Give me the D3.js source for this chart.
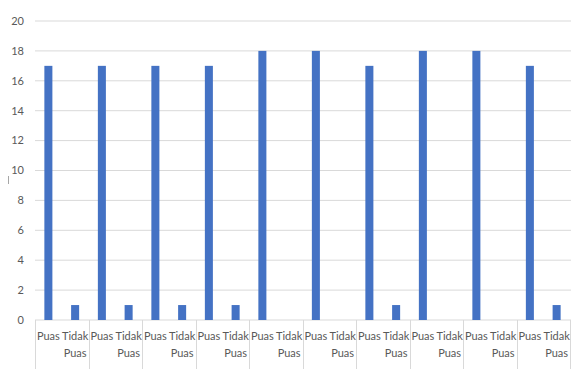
<!DOCTYPE html>
<html>
<head>
<meta charset="utf-8">
<script src="https://cdn.jsdelivr.net/npm/d3@7"></script>
<style>
  body { margin: 0; background: white; }
  text { font-family: Lato, "Open Sans", sans-serif; fill: #595959; }
</style>
</head>
<body>
<div id="chart"></div>
<script>
/* CONSTANTS AND GLOBALS */
const width = 571;
const height = 369;
const margin = { top: 21, right: 1, bottom: 49, left: 35 };

/* DATA */
const groups = [1, 2, 3, 4, 5, 6, 7, 8, 9, 10];
const categories = ["Puas", "Tidak Puas"];
const puas = [17, 17, 17, 17, 18, 18, 17, 18, 18, 17];
const tidakPuas = [1, 1, 1, 1, 0, 0, 1, 0, 0, 1];
const yTicks = [0, 2, 4, 6, 8, 10, 12, 14, 16, 18, 20];

const data = [];
groups.forEach((g, i) => {
  data.push({ group: g, cat: categories[0], value: puas[i] });
  data.push({ group: g, cat: categories[1], value: tidakPuas[i] });
});

/* SCALES */
const xGroup = d3.scaleBand()
  .domain(groups)
  .range([margin.left, width - margin.right]);

const xCat = d3.scaleBand()
  .domain(categories)
  .range([0, xGroup.bandwidth()])
  .paddingInner(0.7)
  .paddingOuter(0.35);

const yScale = d3.scaleLinear()
  .domain([0, 20])
  .range([height - margin.bottom, margin.top]);

/* HTML ELEMENTS */
const svg = d3.select("#chart")
  .append("svg")
  .attr("width", width)
  .attr("height", height)
  .style("background-color", "white");

// gridlines
svg.selectAll(".grid")
  .data(yTicks)
  .join("line")
  .attr("class", "grid")
  .attr("x1", margin.left)
  .attr("x2", width)
  .attr("y1", d => yScale(d))
  .attr("y2", d => yScale(d))
  .attr("stroke", "#d9d9d9")
  .attr("stroke-width", 1);

// y labels
svg.selectAll(".ylab")
  .data(yTicks)
  .join("text")
  .attr("class", "ylab")
  .attr("x", 24)
  .attr("y", d => yScale(d))
  .attr("dy", "0.35em")
  .attr("text-anchor", "end")
  .style("font-size", "11px")
  .text(d => d);

// empty axis title mark
svg.append("line")
  .attr("x1", 8.5).attr("x2", 8.5)
  .attr("y1", 176).attr("y2", 184)
  .attr("stroke", "#a6a6a6");

// bars
svg.selectAll(".bar")
  .data(data)
  .join("rect")
  .attr("class", "bar")
  .attr("x", d => xGroup(d.group) + xCat(d.cat))
  .attr("y", d => yScale(d.value))
  .attr("width", xCat.bandwidth())
  .attr("height", d => yScale(0) - yScale(d.value))
  .attr("fill", "#4472c4");

// group separators
const seps = groups.map(g => xGroup(g)).concat([width - margin.right]);
svg.selectAll(".sep")
  .data(seps)
  .join("line")
  .attr("class", "sep")
  .attr("x1", d => Math.round(d) + 0.5)
  .attr("x2", d => Math.round(d) + 0.5)
  .attr("y1", yScale(0))
  .attr("y2", height)
  .attr("stroke", "#d9d9d9");

// category labels
const catW = xGroup.bandwidth() / 2;
const labels = svg.selectAll(".xlab")
  .data(data)
  .join("text")
  .attr("class", "xlab")
  .attr("text-anchor", "middle")
  .style("font-size", "11px")
  .attr("x", d => xGroup(d.group) + (d.cat === categories[0] ? 0.5 : 1.5) * catW)
  .attr("y", yScale(0) + 20);

labels.each(function(d) {
  const words = d.cat.split(" ");
  const t = d3.select(this);
  words.forEach((w, i) => {
    t.append("tspan")
      .attr("x", t.attr("x"))
      .attr("dy", i === 0 ? 0 : 17)
      .text(w);
  });
});
</script>
</body>
</html>
